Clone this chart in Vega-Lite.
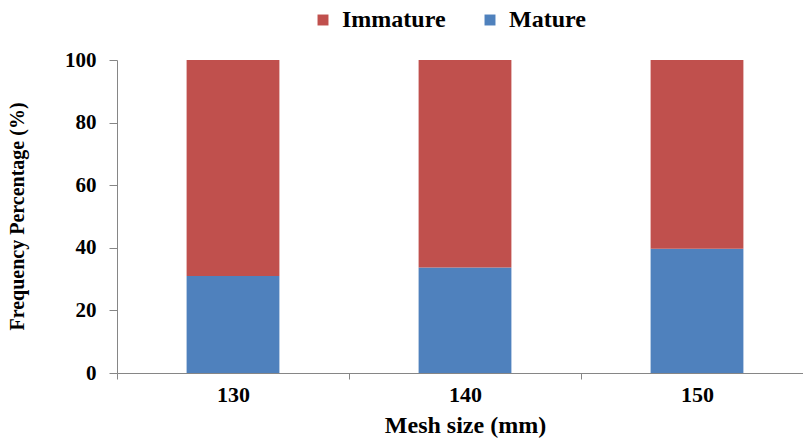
{
  "$schema": "https://vega.github.io/schema/vega-lite/v6.json",
  "width": 696,
  "height": 313,
  "autosize": {"type": "none"},
  "padding": {"left": 117, "top": 60, "right": 0, "bottom": 65},
  "background": "white",
  "data": {
    "values": [
      {"mesh": "130", "stage": "Mature", "value": 31},
      {"mesh": "130", "stage": "Immature", "value": 69},
      {"mesh": "140", "stage": "Mature", "value": 33.7},
      {"mesh": "140", "stage": "Immature", "value": 66.3},
      {"mesh": "150", "stage": "Mature", "value": 39.7},
      {"mesh": "150", "stage": "Immature", "value": 60.3}
    ]
  },
  "mark": {"type": "bar", "width": {"band": 0.4}},
  "encoding": {
    "x": {
      "field": "mesh",
      "type": "nominal",
      "sort": ["130", "140", "150"],
      "scale": {"paddingInner": 0, "paddingOuter": 0},
      "axis": {
        "title": "Mesh size (mm)",
        "labelAngle": 0,
        "labelFontSize": 22,
        "labelPadding": 5,
        "tickBand": "extent",
        "tickSize": 6,
        "titleFontSize": 24,
        "titleY": 52,
        "titleBaseline": "middle"
      }
    },
    "y": {
      "field": "value",
      "type": "quantitative",
      "stack": "zero",
      "scale": {"domain": [0, 100]},
      "axis": {
        "title": "Frequency Percentage (%)",
        "values": [0, 20, 40, 60, 80, 100],
        "grid": false,
        "labelFontSize": 21,
        "labelPadding": 13,
        "tickSize": 8,
        "titleFontSize": 20,
        "titleAngle": -90,
        "titleX": -100,
        "titleY": 156,
        "titleAlign": "center",
        "titleBaseline": "middle"
      }
    },
    "color": {
      "field": "stage",
      "type": "nominal",
      "scale": {"domain": ["Immature", "Mature"], "range": ["#C0504D", "#4F81BD"]},
      "legend": {
        "title": null,
        "orient": "none",
        "direction": "horizontal",
        "legendX": 194,
        "legendY": -52,
        "symbolType": "square",
        "symbolSize": 120,
        "symbolStrokeWidth": 0,
        "labelFont": "Liberation Serif",
        "labelFontWeight": "bold",
        "labelFontSize": 24,
        "labelOffset": 7,
        "columnPadding": 32,
        "labelLimit": 300
      }
    },
    "order": {"field": "stage", "sort": "descending"}
  },
  "config": {
    "font": "Liberation Serif",
    "view": {"stroke": null},
    "axis": {
      "domainColor": "#868686",
      "tickColor": "#868686",
      "labelColor": "black",
      "titleColor": "black",
      "labelFont": "Liberation Serif",
      "titleFont": "Liberation Serif",
      "labelFontWeight": "bold",
      "titleFontWeight": "bold"
    },
    "legend": {
      "labelFont": "Liberation Serif",
      "labelFontWeight": "bold",
      "labelColor": "black"
    }
  }
}
